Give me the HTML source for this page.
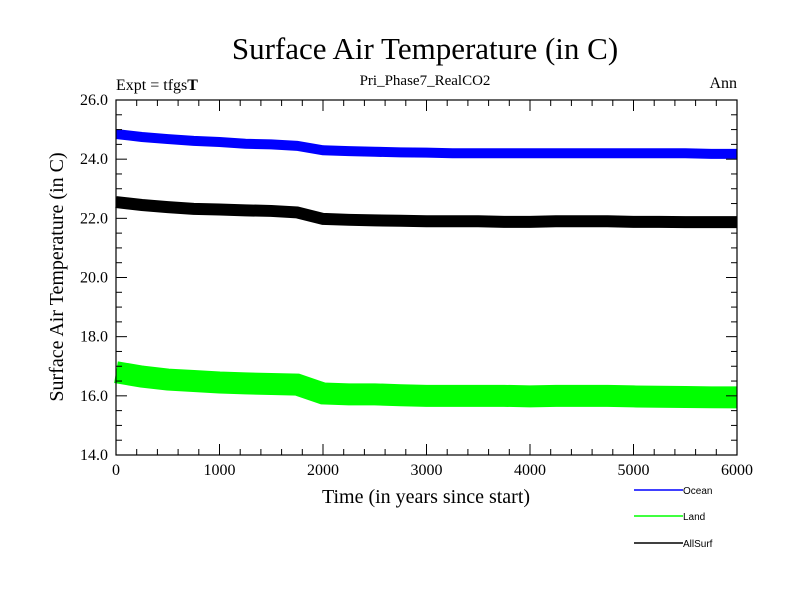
<!DOCTYPE html>
<html><head><meta charset="utf-8"><style>
body{margin:0;background:#fff}
svg text{font-family:"Liberation Serif",serif}
</style></head><body>
<svg id="c" width="800" height="600" xmlns="http://www.w3.org/2000/svg">
<text x="425" y="59" font-size="31" text-anchor="middle">Surface Air Temperature (in C)</text>
<text x="116" y="90" font-size="16">Expt = tfgs<tspan font-weight="bold">T</tspan></text>
<text x="425" y="85" font-size="15" text-anchor="middle">Pri_Phase7_RealCO2</text>
<text x="737" y="88" font-size="16" text-anchor="end">Ann</text>
<text x="0" y="0" font-size="20" text-anchor="middle" transform="translate(63,277) rotate(-90)">Surface Air Temperature (in C)</text>
<text x="426" y="503" font-size="20" text-anchor="middle">Time (in years since start)</text>
<g id="series"></g>
<g id="axes"></g>
<rect x="116" y="100" width="621" height="355" fill="none" stroke="#000" stroke-width="1.2"/>
<g font-family="Liberation Sans,sans-serif" font-size="10">
<line x1="634" y1="490" x2="683" y2="490" stroke="#0000ff" stroke-width="1.5"/>
<text x="683" y="494" style="font-family:'Liberation Sans',sans-serif">Ocean</text>
<line x1="634" y1="516" x2="683" y2="516" stroke="#00ff00" stroke-width="1.5"/>
<text x="683" y="520" style="font-family:'Liberation Sans',sans-serif">Land</text>
<line x1="634" y1="543" x2="683" y2="543" stroke="#000" stroke-width="1.5"/>
<text x="683" y="547" style="font-family:'Liberation Sans',sans-serif">AllSurf</text>
</g>
</svg>
<script>
const years=[0,250,500,750,1000,1250,1500,1750,2000,2250,2500,2750,3000,3250,3500,3750,4000,4250,4500,4750,5000,5250,5500,5750,6000];
const ocean=[24.85,24.75,24.68,24.62,24.58,24.52,24.5,24.45,24.3,24.27,24.25,24.23,24.22,24.2,24.2,24.2,24.2,24.2,24.2,24.2,24.2,24.2,24.2,24.18,24.18];
const land=[16.8,16.65,16.55,16.5,16.45,16.42,16.4,16.38,16.08,16.05,16.05,16.02,16.0,16.0,16.0,16.0,15.98,16.0,16.0,16.0,15.98,15.97,15.96,15.95,15.95];
const allsurf=[22.55,22.45,22.38,22.32,22.3,22.27,22.25,22.2,21.98,21.95,21.93,21.92,21.9,21.9,21.9,21.88,21.88,21.9,21.9,21.9,21.88,21.88,21.87,21.87,21.87];
const xTicks=[0,1000,2000,3000,4000,5000,6000];
const yTicks=[14,16,18,20,22,24,26];
const NS='http://www.w3.org/2000/svg';
const X=v=>116+v/6000*621, Y=v=>100+(26-v)/12*355;
const sg=document.getElementById('series'), ag=document.getElementById('axes');
function mk(t,a,p){const e=document.createElementNS(NS,t);for(const k in a)e.setAttribute(k,a[k]);p.appendChild(e);return e;}
[[ocean,'#0000ff',10,'series-ocean'],[allsurf,'#000',12,'series-allsurf'],[land,'#00ff00',22,'series-land']].forEach(s=>{
 const e=mk('polyline',{points:years.map((y,i)=>X(y)+','+Y(s[0][i])).join(' '),fill:'none',stroke:s[1],'stroke-width':s[2]},sg);
 
 
});
for(let v=0;v<=6000;v+=200){const big=v%1000===0,x=X(v);
 mk('line',{x1:x,y1:455,x2:x,y2:455-(big?11:6),stroke:'#000'},ag);
 mk('line',{x1:x,y1:100,x2:x,y2:100+(big?11:6),stroke:'#000'},ag);}
xTicks.forEach(v=>{const t=mk('text',{x:X(v),y:475,'font-size':16,'text-anchor':'middle'},ag);t.textContent=v;
 
 });
for(let v=14;v<=26.001;v+=0.5){const big=Math.abs(v-Math.round(v/2)*2)<1e-6,y=Y(v);
 mk('line',{x1:116,y1:y,x2:116+(big?11:6),y2:y,stroke:'#000'},ag);
 mk('line',{x1:737,y1:y,x2:737-(big?11:6),y2:y,stroke:'#000'},ag);}
yTicks.forEach(v=>{const t=mk('text',{x:108,y:Y(v)+5,'font-size':16,'text-anchor':'end'},ag);t.textContent=v.toFixed(1);
 
 });
</script>
</body></html>
